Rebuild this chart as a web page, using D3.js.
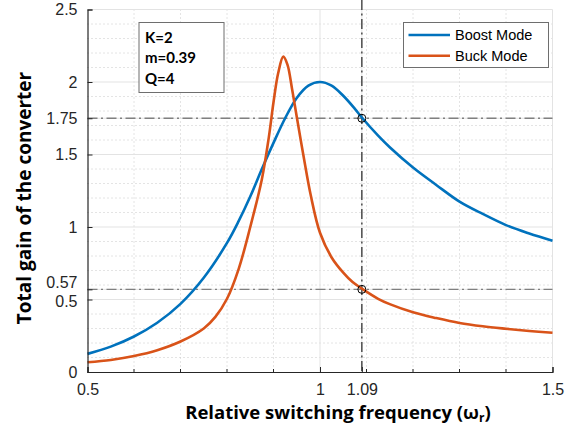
<!DOCTYPE html>
<html><head><meta charset="utf-8">
<script src="https://cdn.jsdelivr.net/npm/d3@7"></script>
<style>body{margin:0;background:#fff}svg{display:block}</style>
</head><body>
<script>
// ---- data ----
const boostFreq = [0.5,0.55,0.6,0.65,0.7,0.75,0.8,0.825,0.85,0.875,0.9,0.925,0.95,0.975,1.0,1.025,1.05,1.075,1.09,1.125,1.15,1.2,1.25,1.3,1.35,1.4,1.45,1.5];
const boostGain = [0.125,0.175,0.245,0.34,0.47,0.65,0.89,1.04,1.21,1.40,1.58,1.75,1.89,1.975,2.0,1.975,1.905,1.815,1.755,1.63,1.55,1.41,1.29,1.175,1.09,1.013,0.955,0.905];
const buckFreq = [0.5,0.55,0.6,0.65,0.7,0.75,0.775,0.8,0.825,0.85,0.875,0.89,0.9,0.91,0.921,0.93,0.94,0.95,0.964,0.98,1.0,1.025,1.05,1.07,1.09,1.125,1.15,1.2,1.25,1.3,1.35,1.4,1.45,1.5];
const buckGain = [0.067,0.083,0.11,0.15,0.21,0.30,0.38,0.505,0.71,1.0,1.33,1.62,1.86,2.06,2.175,2.12,1.95,1.76,1.50,1.22,0.96,0.79,0.685,0.62,0.575,0.505,0.468,0.412,0.372,0.338,0.315,0.298,0.283,0.271];
const seriesNames = ["Boost Mode","Buck Mode"];
const xTicks = [0.5,1,1.09,1.5];
const yTicks = [0,0.5,0.57,1,1.5,1.75,2,2.5];
const xMinor = [0.6,0.7,0.8,0.9,1.1,1.2,1.3,1.4];
const yMinor = [0.1,0.2,0.3,0.4,0.6,0.7,0.8,0.9,1.1,1.2,1.3,1.4,1.6,1.7,1.8,1.9,2.1,2.2,2.3,2.4];
const markX = 1.09;
const markY = [1.75,0.57];
const params = ["K=2","m=0.39","Q=4"];

// ---- layout ----
const W = 586, H = 430;
const L = 87.5, R = 552.5, T = 9.5, B = 372;
const x = d3.scaleLinear().domain([0.5,1.5]).range([L,R]);
const y = d3.scaleLinear().domain([0,2.5]).range([B,T]);
const svg = d3.select("body").append("svg").attr("width",W).attr("height",H);
const blue = "#0072BD", orange = "#D95319";

// minor grid
const g = svg.append("g");
g.selectAll(".mx").data(xMinor).join("line")
  .attr("x1",d=>x(d)).attr("x2",d=>x(d)).attr("y1",T).attr("y2",B)
  .attr("stroke","#c8c8c8").attr("stroke-width",1).attr("stroke-dasharray","1,3");
g.selectAll(".my").data(yMinor).join("line")
  .attr("y1",d=>y(d)).attr("y2",d=>y(d)).attr("x1",L).attr("x2",R)
  .attr("stroke","#c8c8c8").attr("stroke-width",1).attr("stroke-dasharray","1,3");
// major grid
g.selectAll(".gx").data(xTicks.filter(d=>d!==0.5)).join("line")
  .attr("x1",d=>x(d)).attr("x2",d=>x(d)).attr("y1",T).attr("y2",B)
  .attr("stroke","#e3e3e3").attr("stroke-width",1);
g.selectAll(".gy").data(yTicks.filter(d=>d!==0)).join("line")
  .attr("y1",d=>y(d)).attr("y2",d=>y(d)).attr("x1",L).attr("x2",R)
  .attr("stroke","#e3e3e3").attr("stroke-width",1);

// reference dash-dot lines
markY.forEach(v=>{
  svg.append("line").attr("x1",L).attr("x2",R).attr("y1",y(v)).attr("y2",y(v))
    .attr("stroke","#808080").attr("stroke-width",1.3).attr("stroke-dasharray","10,3.5,2,3.5");
});
svg.append("line").attr("x1",x(markX)).attr("x2",x(markX)).attr("y1",0).attr("y2",B)
  .attr("stroke","#333").attr("stroke-width",1.3).attr("stroke-dasharray","10,3.5,2,3.5");

// curves
const line = d3.line().x(d=>x(d[0])).y(d=>y(d[1])).curve(d3.curveCatmullRom.alpha(0.5));
svg.append("path").datum(d3.zip(boostFreq,boostGain)).attr("d",line)
  .attr("fill","none").attr("stroke",blue).attr("stroke-width",2.6);
svg.append("path").datum(d3.zip(buckFreq,buckGain)).attr("d",line)
  .attr("fill","none").attr("stroke",orange).attr("stroke-width",2.6);

// markers
svg.selectAll(".mk").data(markY).join("circle")
  .attr("cx",x(markX)).attr("cy",d=>y(d)).attr("r",4)
  .attr("fill","none").attr("stroke","#000").attr("stroke-width",1);

// axes
const tickCol = "#262626";
const xAxis = d3.axisBottom(x).tickValues(xTicks).tickSize(-5).tickPadding(12).tickFormat(d=>String(d));
const yAxis = d3.axisLeft(y).tickValues(yTicks).tickSize(-5).tickPadding(10).tickFormat(d=>String(d));
const gx = svg.append("g").attr("transform",`translate(0,${B})`).call(xAxis);
const gy = svg.append("g").attr("transform",`translate(${L},0)`).call(yAxis);
[gx,gy].forEach(a=>{
  a.select(".domain").attr("stroke",tickCol).attr("stroke-width",1.2);
  a.selectAll(".tick line").attr("stroke",tickCol).attr("stroke-width",1);
  a.selectAll("text").attr("fill",tickCol).style("font-family","'Liberation Sans',Arial,sans-serif").style("font-size","16px");
});
gy.selectAll(".tick text").filter(d=>d===0.57).attr("dy","-0.12em");
gy.selectAll(".tick text").filter(d=>d===0.5).attr("dy","0.42em");
gx.selectAll(".minor").data(xMinor).join("line")
  .attr("x1",d=>x(d)).attr("x2",d=>x(d)).attr("y1",0).attr("y2",-3)
  .attr("stroke",tickCol).attr("stroke-width",1);

// axis titles
svg.append("text").attr("x",338).attr("y",419).attr("text-anchor","middle")
  .style("font-family","'Open Sans',sans-serif").style("font-weight","bold").style("font-size","18.5px")
  .attr("fill","#000")
  .call(t=>{t.append("tspan").text("Relative switching frequency (ω");
            t.append("tspan").text("r").attr("font-size","12px").attr("dy",3);
            t.append("tspan").text(")").attr("dy",-3);});
svg.append("text").attr("transform","translate(31,198) rotate(-90)").attr("text-anchor","middle")
  .style("font-family","'Open Sans',sans-serif").style("font-weight","bold").style("font-size","19px")
  .attr("fill","#000").text("Total gain of the converter");

// parameter box
svg.append("rect").attr("x",139).attr("y",22.5).attr("width",85).attr("height",70)
  .attr("fill","#fff").attr("stroke","#6e6e6e").attr("stroke-width",1);
svg.selectAll(".pt").data(params).join("text")
  .attr("x",145).attr("y",(d,i)=>42.5+i*20.8)
  .style("font-family","Lato,'Open Sans',sans-serif").style("font-weight","bold").style("font-size","15px")
  .attr("fill","#000").text(d=>d);

// legend
svg.append("rect").attr("x",403.5).attr("y",22.5).attr("width",145).attr("height",45)
  .attr("fill","#fff").attr("stroke","#6e6e6e").attr("stroke-width",1);
const lg = svg.selectAll(".lg").data(seriesNames).join("g")
  .attr("transform",(d,i)=>`translate(0,${35+i*20.7})`);
lg.append("line").attr("x1",408.5).attr("x2",450).attr("stroke",(d,i)=>i?orange:blue).attr("stroke-width",2.6);
lg.append("text").attr("x",455).attr("y",5.2)
  .style("font-family","'Liberation Sans',Arial,sans-serif").style("font-size","14.5px")
  .attr("fill","#000").text(d=>d);
</script>
</body></html>
